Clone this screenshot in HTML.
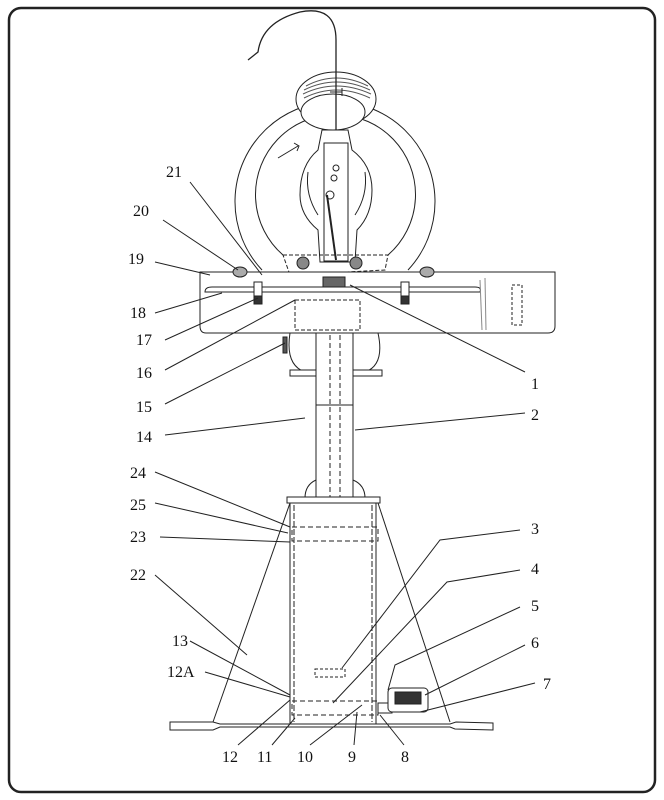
<!DOCTYPE html>
<html><head><meta charset="utf-8"><style>
html,body{margin:0;padding:0;background:#fff;}
svg{display:block;}
text{font-family:"Liberation Serif","Times New Roman",serif;font-size:16px;fill:#111;}
</style></head><body>
<svg width="664" height="800" viewBox="0 0 664 800" xmlns="http://www.w3.org/2000/svg">
<rect x="9" y="8" width="646" height="784" rx="12" fill="none" stroke="#222" stroke-width="2.5"/>
<g fill="none" stroke="#222" stroke-width="1">
<!-- big ring -->
<path d="M262,270 A100,100 0 1 1 408,270"/>
<path d="M283,255 A80,80 0 1 1 388,255"/>
<!-- spool -->
<ellipse cx="336" cy="99" rx="40" ry="27" fill="#fff"/>
<g stroke="#555">
<path d="M306,86 Q336,70 368,86 M304,90 Q336,74 370,90 M303,94 Q336,78 371,94 M304,98 Q336,82 370,98"/>
</g>
<ellipse cx="333" cy="112" rx="32" ry="18" fill="#fff"/>
<path d="M330,92 l12,0 M342,88 l0,8"/>
<!-- wire -->
<path d="M336,130 L336,40 Q336,5 300,12 Q262,22 258,52 L248,60" stroke-width="1.3"/>
<!-- arm -->
<path d="M322,130 L318,150 Q300,165 300,195 Q300,215 318,230 L320,262 L355,262 L357,230 Q372,215 372,190 Q372,165 352,150 L348,130 Z" fill="#fff"/>
<path d="M308,172 Q305,195 318,215 M365,172 Q368,195 355,215"/>
<rect x="324" y="143" width="24" height="118" fill="#fff"/>
<circle cx="336" cy="168" r="3"/><circle cx="334" cy="178" r="3"/>
<line x1="327" y1="195" x2="336" y2="260" stroke-width="2"/>
<circle cx="330" cy="195" r="4"/>
<path d="M278,158 l20,-12 m-4,-3 l5,3 l-2,5"/>
<!-- bracket -->
<path d="M283,255 L388,255 L385,270 L290,275 Z" stroke-dasharray="4,2"/>
<circle cx="303" cy="263" r="6" fill="#888"/><circle cx="356" cy="263" r="6" fill="#888"/>
<!-- table -->
<path d="M200,272 L555,272 L555,326 Q555,333 548,333 L206,333 Q200,333 200,326 Z" fill="#fff"/>
<path d="M205,292 Q205,287 212,287 L475,287 Q482,287 480,292 Z" fill="#fff"/>
<rect x="254" y="282" width="8" height="22" fill="#fff"/><rect x="254" y="296" width="8" height="8" fill="#333"/>
<rect x="401" y="282" width="8" height="22" fill="#fff"/><rect x="401" y="296" width="8" height="8" fill="#333"/>
<ellipse cx="240" cy="272" rx="7" ry="5" fill="#aaa"/><ellipse cx="427" cy="272" rx="7" ry="5" fill="#aaa"/>
<rect x="323" y="277" width="22" height="10" fill="#666"/>
<rect x="512" y="285" width="10" height="40" stroke-dasharray="3,2"/>
<line x1="480" y1="280" x2="482" y2="330" stroke="#888"/><line x1="485" y1="278" x2="486" y2="330" stroke="#888"/>
<rect x="295" y="300" width="65" height="30" stroke-dasharray="4,2"/>
<!-- motor bulge -->
<path d="M290,333 Q285,365 305,372 M378,333 Q385,365 365,372"/>
<rect x="290" y="370" width="92" height="6" fill="#fff"/>
<rect x="283" y="337" width="4" height="16" fill="#555"/>
<!-- column -->
<rect x="316" y="333" width="37" height="165" fill="#fff"/>
<line x1="330" y1="335" x2="330" y2="660" stroke-dasharray="5,3"/>
<line x1="340" y1="335" x2="340" y2="660" stroke-dasharray="5,3"/>
<line x1="316" y1="405" x2="353" y2="405"/>
<path d="M305,498 Q305,485 316,480 M365,498 Q365,485 353,480"/>
<!-- base plate and cylinder -->
<rect x="287" y="497" width="93" height="6" fill="#fff"/>
<rect x="290" y="503" width="86" height="222" fill="#fff"/>
<line x1="294" y1="505" x2="294" y2="722" stroke-dasharray="6,2"/>
<line x1="372" y1="505" x2="372" y2="722" stroke-dasharray="6,2"/>
<rect x="292" y="527" width="86" height="14" stroke-dasharray="5,3"/>
<rect x="292" y="701" width="86" height="14" stroke-dasharray="5,3"/>
<rect x="315" y="669" width="30" height="8" stroke-dasharray="3,2"/>
<!-- legs and foot -->
<line x1="290" y1="503" x2="213" y2="722"/>
<line x1="378" y1="503" x2="450" y2="722"/>
<path d="M170,722 L213,722 L220,724 L450,724 L456,722 L493,723 L493,730 L455,729 L450,727 L220,727 L213,730 L170,730 Z" fill="#fff"/>
<!-- pedal -->
<rect x="378" y="703" width="14" height="10"/>
<rect x="388" y="688" width="40" height="24" rx="4" fill="#fff"/>
<rect x="395" y="692" width="26" height="12" fill="#333"/>
<!-- leaders -->
<path d="M190,182 L262,275 M163,220 L238,270 M155,262 L210,275 M155,313 L222,293 M165,340 L258,298 M165,370 L295,300 M165,404 L285,343 M525,372 L350,285 M165,435 L305,418 M525,413 L355,430 M155,472 L290,527 M155,503 L288,533 M160,537 L290,542 M155,575 L247,655 M520,530 L440,540 L342,668 M520,570 L447,582 L333,703 M520,607 L395,665 L388,690 M525,645 L425,695 M535,683 L420,712 M190,641 L290,695 M205,672 L290,697 M238,745 L290,700 M272,745 L295,718 M310,745 L362,705 M354,745 L357,712 M404,745 L380,715"/>
</g>
<g>
<text x="166" y="177">21</text><text x="133" y="216">20</text><text x="128" y="264">19</text>
<text x="130" y="318">18</text><text x="136" y="345">17</text><text x="136" y="378">16</text>
<text x="136" y="412">15</text><text x="136" y="442">14</text><text x="130" y="478">24</text>
<text x="130" y="510">25</text><text x="130" y="542">23</text><text x="130" y="580">22</text>
<text x="172" y="646">13</text><text x="167" y="677">12A</text>
<text x="222" y="762">12</text><text x="257" y="762">11</text><text x="297" y="762">10</text>
<text x="348" y="762">9</text><text x="401" y="762">8</text>
<text x="531" y="389">1</text><text x="531" y="420">2</text><text x="531" y="534">3</text>
<text x="531" y="574">4</text><text x="531" y="611">5</text><text x="531" y="648">6</text>
<text x="543" y="689">7</text>
</g>
</svg>
</body></html>
